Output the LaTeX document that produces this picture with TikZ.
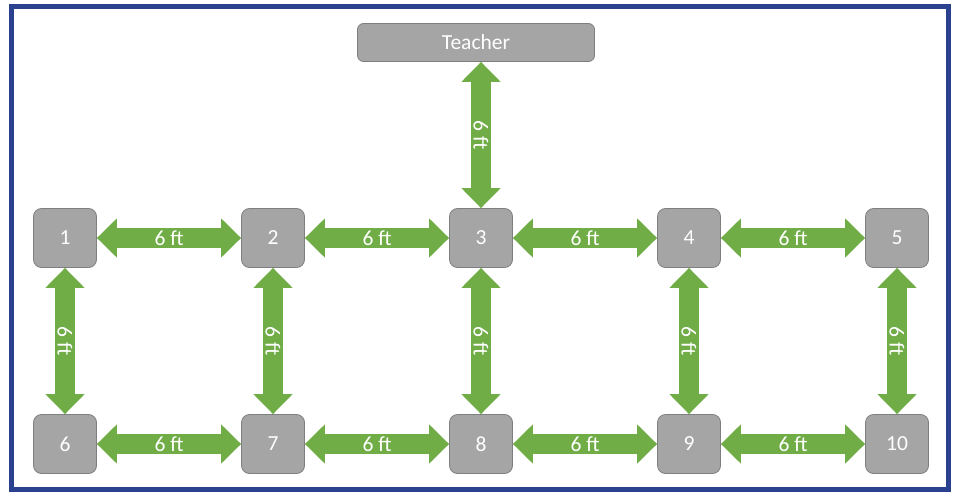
\documentclass[tikz,border=0pt]{standalone}
\usepackage{fontspec}
\setmainfont{Carlito}
\usetikzlibrary{arrows.meta}
\definecolor{boxgray}{HTML}{A5A5A5}
\definecolor{boxedge}{HTML}{7F7F7F}
\definecolor{arrowgreen}{HTML}{70AD47}
\definecolor{frameblue}{HTML}{2B4190}
\begin{document}
\begin{tikzpicture}[x=1pt,y=-1pt,
  lbl/.style={text=white, font=\fontsize{21.5}{25}\selectfont},
  seat/.style={lbl, draw=boxedge, fill=boxgray, rounded corners=8pt, minimum width=63pt, minimum height=59pt, line width=0.8pt, inner sep=0pt},
  teacherbox/.style={lbl, draw=boxedge, fill=boxgray, rounded corners=6pt, minimum width=237pt, minimum height=38pt, line width=0.8pt, inner sep=0pt},
  gap/.style={draw=arrowgreen, line width=20pt, {Triangle[width=38pt,length=20pt]}-{Triangle[width=38pt,length=20pt]}},
  gaplbl/.style={lbl, midway, inner sep=0pt}
]
\useasboundingbox (0,0) rectangle (955,495);
\draw[draw=frameblue, line width=5pt] (11.5,6.5) rectangle (948.5,489.5);

\node[teacherbox] (t) at (476,42.5) {Teacher};
\foreach \i/\x in {1/65,2/273,3/481,4/689,5/897}{
  \node[seat] (n\i) at (\x,238) {\i};
}
\foreach \i/\x in {6/65,7/273,8/481,9/689,10/897}{
  \node[seat] (n\i) at (\x,444) {\i};
}

\draw[gap] (t.south -| n3.north) -- (n3.north) node[gaplbl, rotate=-90] {6 ft};

\foreach \a/\b in {1/2,2/3,3/4,4/5,6/7,7/8,8/9,9/10}{
  \draw[gap] (n\a.east) -- (n\b.west) node[gaplbl] {6 ft};
}
\foreach \a/\b in {1/6,2/7,3/8,4/9,5/10}{
  \draw[gap] (n\a.south) -- (n\b.north) node[gaplbl, rotate=-90] {6 ft};
}
\end{tikzpicture}
\end{document}
